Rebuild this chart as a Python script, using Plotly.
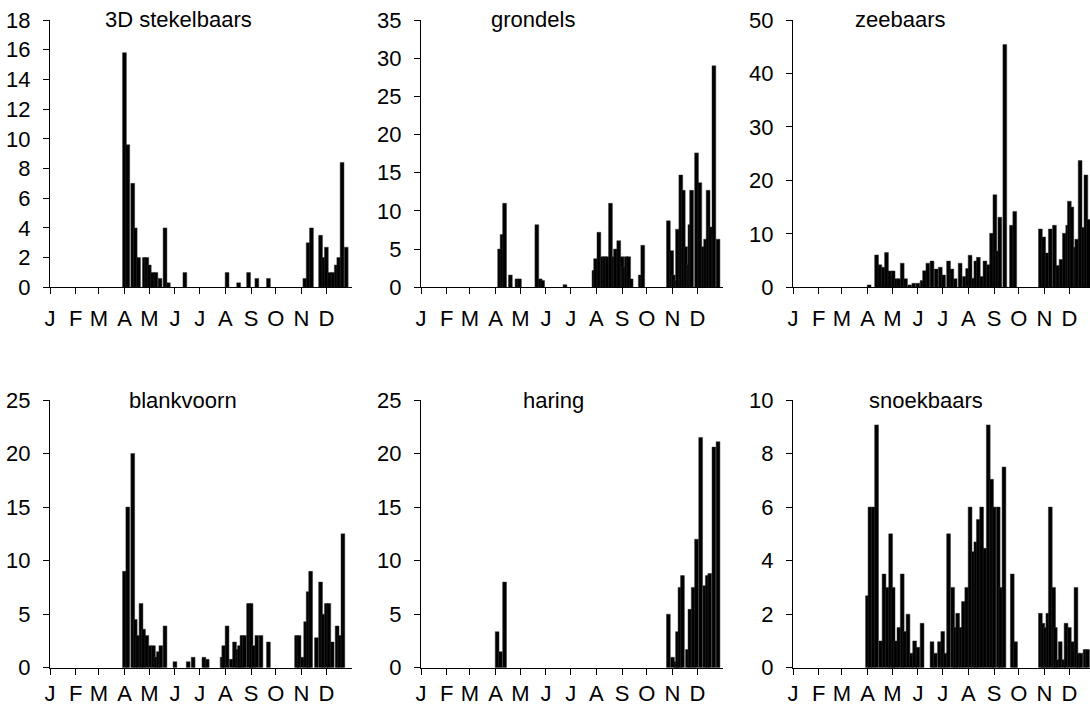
import plotly.graph_objects as go

# ---------------- data (day of year of each sample, value) ----------------
month_ticks = [0, 31, 59, 90, 120, 151, 181, 212, 243, 273, 304, 334]
month_labels = ["J", "F", "M", "A", "M", "J", "J", "A", "S", "O", "N", "D"]

stekel_dag = [90, 94, 100, 103, 107, 114, 117, 120, 124, 128, 133, 139, 143, 163,
              214, 228, 240, 250, 264, 308, 312, 316, 327, 331, 334, 338, 342, 346,
              349, 353, 358]
stekel_n = [15.8, 9.6, 7.0, 4.0, 2.0, 2.0, 2.0, 1.5, 1.0, 1.0, 0.6, 4.0, 0.3, 1.0,
            1.0, 0.3, 1.0, 0.6, 0.6, 0.6, 3.0, 4.0, 3.5, 2.0, 2.7, 1.0, 1.0, 1.5,
            2.0, 8.4, 2.7]

grondel_dag = [95, 98, 101, 108, 116, 119, 140, 144, 147, 174, 209, 211, 215, 219,
               222, 225, 229, 233, 235, 239, 243, 245, 248, 251, 254, 265, 268, 299,
               303, 305, 308, 310, 314, 317, 320, 323, 325, 327, 333, 337, 341, 344,
               347, 350, 354, 359]
grondel_n = [5.0, 6.9, 11.0, 1.6, 1.1, 1.1, 8.2, 1.1, 0.9, 0.35, 2.2, 3.75, 7.2, 4.0,
             4.0, 4.0, 11.0, 4.0, 5.0, 6.1, 4.0, 2.7, 4.0, 4.0, 1.1, 1.6, 5.5, 8.7,
             4.8, 1.6, 0.9, 7.6, 14.7, 12.7, 5.3, 3.0, 8.2, 12.7, 17.6, 13.7, 5.3, 6.3,
             12.7, 7.9, 29.0, 6.3]

zeebaars_dag = [92, 101, 105, 109, 113, 117, 121, 125, 128, 132, 136, 141, 146, 151,
                156, 159, 163, 168, 173, 178, 182, 188, 192, 196, 202, 207, 211, 214,
                218, 221, 224, 228, 232, 236, 240, 244, 247, 250, 256, 264, 268, 299,
                303, 307, 311, 316, 320, 324, 328, 332, 334, 337, 341, 343, 347, 351,
                354, 357]
zeebaars_n = [0.45, 6.05, 4.2, 3.75, 6.5, 3.06, 3.06, 1.6, 1.6, 4.5, 1.6, 0.45, 0.75,
              0.75, 1.25, 3.1, 4.5, 4.9, 3.4, 3.75, 2.3, 4.9, 3.4, 1.6, 4.5, 2.0, 3.5,
              6.0, 1.7, 4.9, 5.6, 2.0, 4.9, 4.2, 10.1, 17.3, 6.8, 13.1, 45.4, 11.6,
              14.2, 10.9, 9.4, 6.4, 10.9, 11.6, 4.1, 5.2, 10.1, 11.6, 16.1, 15.0, 7.5,
              9.0, 23.7, 11.2, 21.0, 12.7]

blank_dag = [90, 94, 100, 103, 106, 110, 113, 117, 121, 125, 128, 131, 134, 139, 151,
             167, 173, 186, 190, 208, 210, 214, 219, 223, 227, 229, 232, 235, 240, 243,
             246, 250, 255, 264, 298, 301, 305, 309, 312, 315, 322, 327, 330, 334, 337,
             341, 347, 350, 354]
blank_n = [9.0, 15.0, 20.0, 4.5, 3.0, 6.0, 3.6, 3.0, 2.06, 2.06, 1.0, 1.5, 2.06, 3.9,
           0.56, 0.56, 0.97, 0.97, 0.78, 0.97, 2.06, 3.9, 0.78, 2.4, 1.7, 2.06, 3.0,
           3.0, 6.0, 6.0, 2.06, 3.0, 3.0, 2.4, 3.0, 3.0, 0.97, 4.3, 7.1, 9.0, 2.8, 8.0,
           5.0, 6.0, 6.0, 2.4, 3.9, 3.0, 12.5]

haring_dag = [92, 96, 101, 299, 304, 308, 310, 313, 316, 322, 325, 329, 333, 338, 343,
              346, 349, 354, 359]
haring_n = [3.36, 1.5, 8.0, 5.0, 0.97, 0.56, 3.36, 7.5, 8.6, 1.7, 5.45, 7.5, 12.0,
            21.5, 7.66, 8.6, 8.8, 20.6, 21.1]

snoek_dag = [90, 93, 97, 101, 106, 110, 114, 118, 121, 124, 128, 132, 135, 139, 143,
             147, 151, 156, 168, 172, 177, 181, 184, 188, 193, 196, 199, 203, 206, 210,
             214, 218, 221, 224, 228, 232, 236, 240, 243, 248, 251, 255, 265, 269, 299,
             302, 305, 308, 311, 315, 317, 320, 323, 327, 330, 334, 338, 342, 345, 348,
             353, 356]
snoek_n = [2.69, 6.0, 6.0, 9.07, 1.0, 3.5, 3.0, 5.0, 3.0, 1.0, 1.5, 3.5, 1.35, 2.0,
           0.54, 1.0, 0.76, 1.66, 0.97, 0.54, 0.97, 1.35, 0.54, 5.0, 3.0, 1.5, 2.03,
           1.5, 2.47, 3.0, 6.0, 4.33, 4.7, 5.54, 6.0, 4.46, 9.07, 7.04, 6.0, 6.0, 3.0,
           7.5, 3.5, 0.97, 2.03, 1.66, 1.5, 2.03, 6.0, 3.0, 1.5, 0.3, 0.97, 0.3, 1.66,
           1.5, 0.97, 3.0, 0.54, 0.54, 0.68, 0.68]

titles = ["3D stekelbaars", "grondels", "zeebaars", "blankvoorn", "haring", "snoekbaars"]
y_max = [18, 35, 50, 25, 25, 10]
y_step = [2, 5, 10, 5, 5, 2]

# ---------------- layout geometry ----------------
W, H = 1090, 708
FONT = "Liberation Sans, Arial, sans-serif"
FS = 22
PX_PER_DAY = 302 / 365.0
col_left = [50, 421, 793]
row_px = [(20, 287.3), (400, 667.7)]          # (top, zero line) in pixels
row_month_standoff = [5, 0]
title_pos = [(178.5, 20), (533, 20), (900, 20), (182.5, 400), (553.5, 400), (926, 400)]

series = [(stekel_dag, stekel_n), (grondel_dag, grondel_n), (zeebaars_dag, zeebaars_n),
          (blank_dag, blank_n), (haring_dag, haring_n), (snoek_dag, snoek_n)]

fig = go.Figure()
layout = dict(width=W, height=H, margin=dict(l=0, r=0, t=0, b=0, autoexpand=False),
              paper_bgcolor="white", plot_bgcolor="white", showlegend=False,
              font=dict(family=FONT, size=FS, color="black"), annotations=[])

for i, (dag, n) in enumerate(series):
    r, c = divmod(i, 3)
    k = "" if i == 0 else str(i + 1)
    fig.add_trace(go.Bar(x=dag, y=n, width=4.6, xaxis="x" + k, yaxis="y" + k,
                         marker=dict(color="black", line=dict(color="#333333", width=0.5)),
                         hoverinfo="x+y"))
    x0 = col_left[c]
    x1 = min(W, x0 + 365 * PX_PER_DAY)
    xmax = (x1 - x0) / PX_PER_DAY
    top, zero = row_px[r]
    layout["xaxis" + k] = dict(domain=[x0 / W, x1 / W], range=[0, xmax], anchor="y" + k,
                               showline=True, linecolor="black", linewidth=1,
                               ticks="outside", ticklen=6, tickcolor="black", tickwidth=1,
                               tickvals=month_ticks, ticktext=month_labels,
                               showgrid=False, zeroline=False,
                               ticklabelstandoff=row_month_standoff[r],
                               automargin=False, fixedrange=True)
    layout["yaxis" + k] = dict(domain=[1 - zero / H, 1 - top / H], range=[0, y_max[i]],
                               anchor="x" + k, dtick=y_step[i], tick0=0,
                               showline=True, linecolor="black", linewidth=1,
                               ticks="outside", ticklen=6, tickcolor="black", tickwidth=1,
                               showgrid=False, zeroline=False, ticklabelstandoff=8,
                               automargin=False, fixedrange=True)
    tx, ty = title_pos[i]
    layout["annotations"].append(dict(text=titles[i], xref="paper", yref="paper",
                                      x=tx / W, y=1 - ty / H, xanchor="center",
                                      yanchor="middle", showarrow=False,
                                      font=dict(family=FONT, size=FS, color="black")))

fig.update_layout(**layout)
fig.write_html("out.html")
